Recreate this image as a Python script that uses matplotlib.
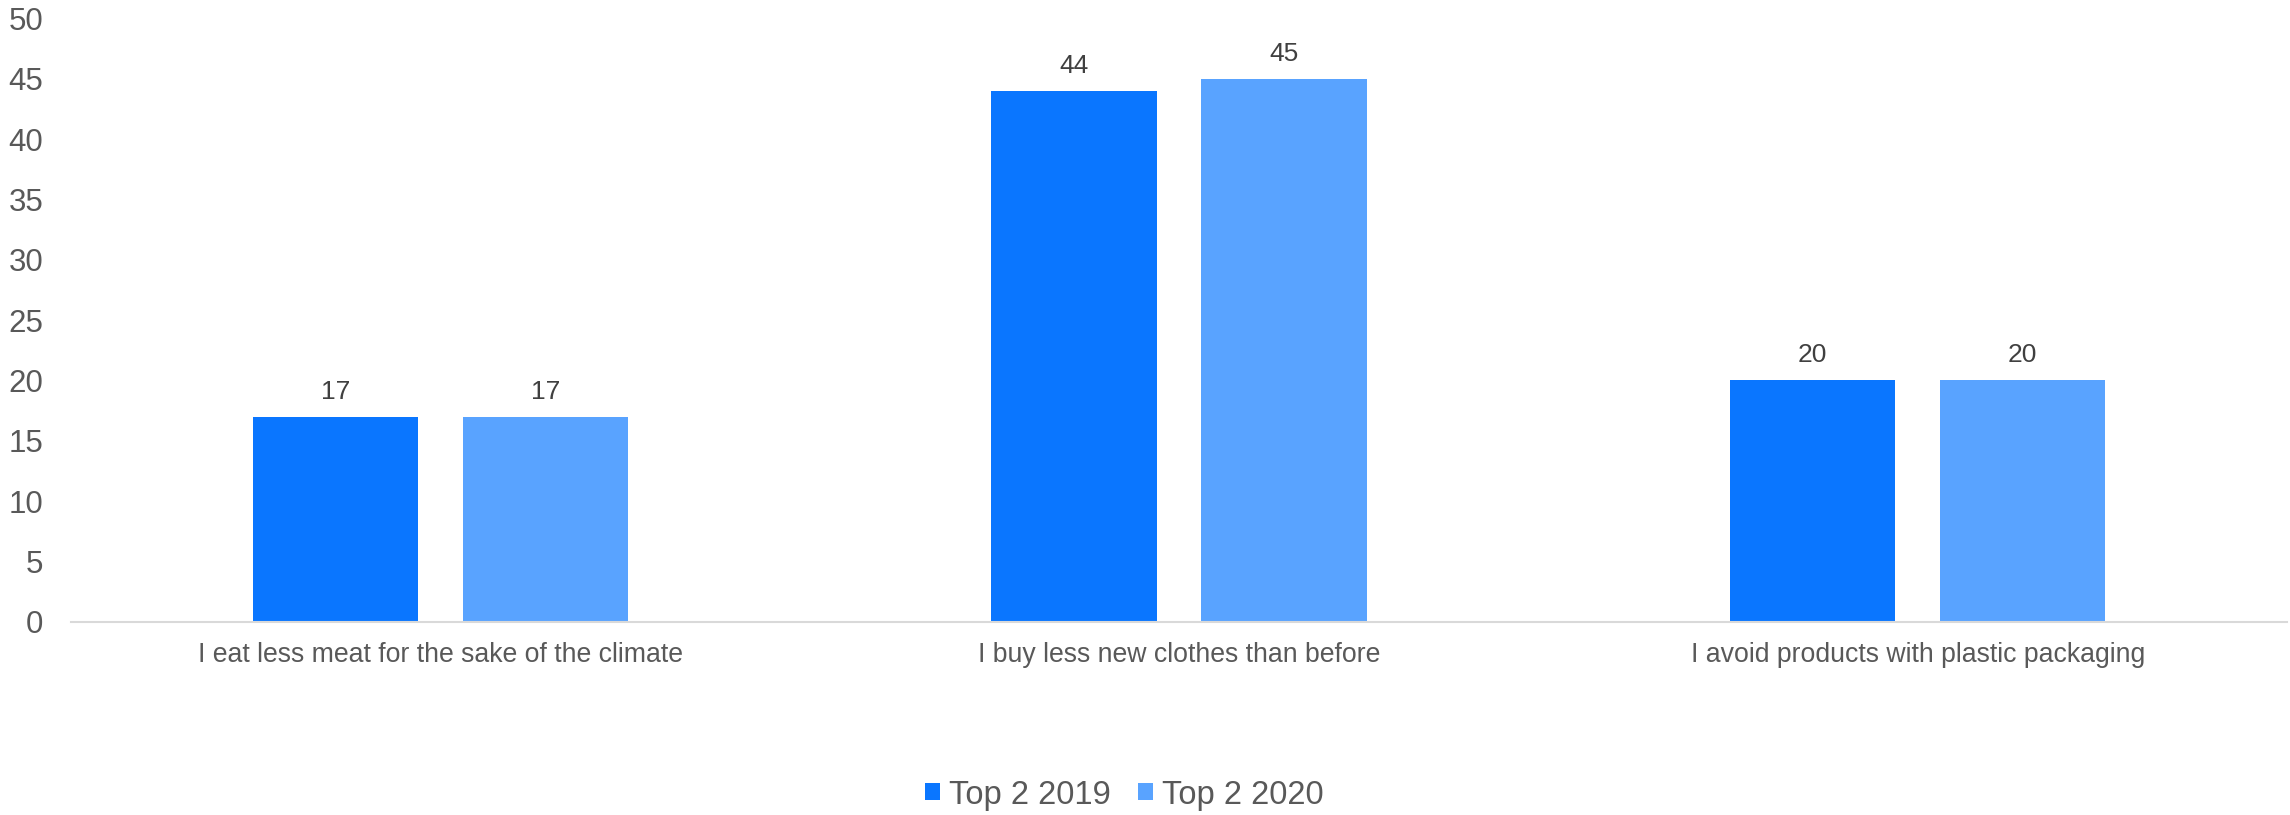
import matplotlib
matplotlib.use("Agg")
import matplotlib.pyplot as plt
from matplotlib.patches import Patch
import numpy as np

categories = [
    "I eat less meat for the sake of the climate",
    "I buy less new clothes than before",
    "I avoid products with plastic packaging",
]
series_names = ["Top 2 2019", "Top 2 2020"]
values_2019 = [17, 44, 20]
values_2020 = [17, 45, 20]
y_ticks = [0, 5, 10, 15, 20, 25, 30, 35, 40, 45, 50]

colors = ["#0A76FF", "#59A3FF"]
text_grey = "#595959"
label_grey = "#404040"

plt.rcParams["font.family"] = ["Liberation Sans", "DejaVu Sans"]

fig = plt.figure(figsize=(22.9, 8.15), dpi=100)
ax = fig.add_axes([0.031, 0.2372, 0.9677, 0.7399])

x = np.arange(len(categories))
bar_w = 0.224
offset = bar_w / 2 + 0.0302

for vals, dx, col in [(values_2019, -offset, colors[0]), (values_2020, offset, colors[1])]:
    bars = ax.bar(x + dx, vals, width=bar_w, color=col, zorder=2)
    for rect, v in zip(bars, vals):
        ax.annotate(f"{v}", (rect.get_x() + rect.get_width() / 2, v),
                    xytext=(0, 13), textcoords="offset points",
                    ha="center", va="baseline", fontsize=19, color=label_grey)

ax.set_xlim(-0.5, len(categories) - 0.5)
ax.set_ylim(0, 50)
ax.set_yticks(y_ticks)
ax.set_yticklabels([str(t) for t in y_ticks])
ax.set_xticks(x)
ax.set_xticklabels(categories)

ax.tick_params(axis="y", length=0, pad=20, labelsize=22.5, labelcolor=text_grey)
ax.tick_params(axis="x", length=0, pad=14.5, labelsize=19.2, labelcolor=text_grey)

for side in ["top", "right", "left"]:
    ax.spines[side].set_visible(False)
ax.spines["bottom"].set_color("#D9D9D9")
ax.spines["bottom"].set_linewidth(1.5)

handles = [Patch(facecolor=c, edgecolor="none") for c in colors]
fig.legend(handles, series_names, loc="center", bbox_to_anchor=(0.491, 0.0245),
           ncol=2, frameon=False, fontsize=23.5, labelcolor=text_grey,
           handlelength=0.43, handleheight=0.43, handletextpad=0.28,
           columnspacing=0.86, borderpad=0, borderaxespad=0)

fig.savefig("out.png", dpi=100)
